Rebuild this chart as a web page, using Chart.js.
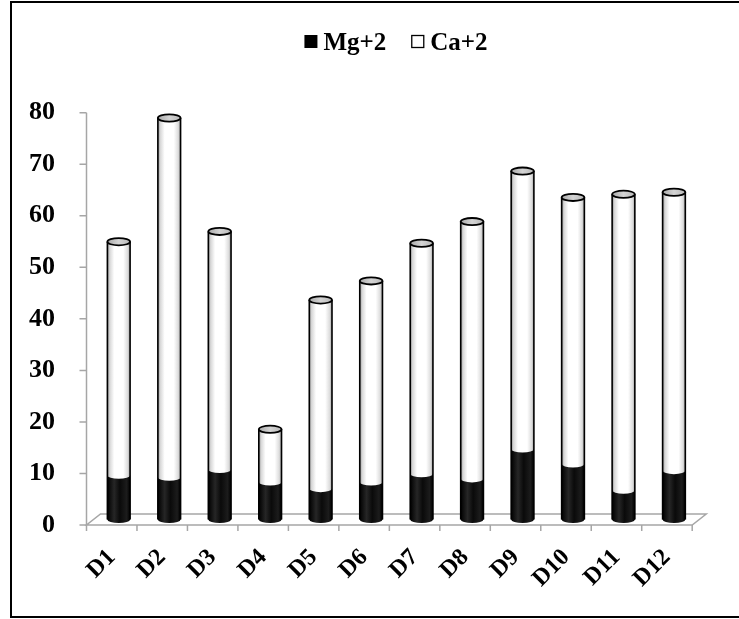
<!DOCTYPE html>
<html>
<head>
<meta charset="utf-8">
<script src="https://cdn.jsdelivr.net/npm/chart.js@4/dist/chart.umd.min.js"></script>
<style>
  html, body { margin: 0; padding: 0; background: #fff; }
  #wrap { position: relative; width: 739px; height: 619px; }
  canvas { display: block; }
</style>
</head>
<body>
<div id="wrap"><canvas id="c" width="739" height="619"></canvas></div>
<script>
// ---- data ----
const categories = ['D1','D2','D3','D4','D5','D6','D7','D8','D9','D10','D11','D12'];
const mgValues = [8.6, 8.2, 9.7, 7.3, 6.0, 7.3, 8.9, 7.9, 13.7, 10.8, 5.7, 9.5];
const caValues = [45.3, 69.7, 46.2, 10.2, 36.6, 39.0, 44.7, 49.9, 53.9, 51.7, 57.4, 54.0];
const seriesNames = ['Mg+2', 'Ca+2'];
const yMin = 0, yMax = 80, yStep = 10;

// ---- styling ----
const FONT = '"Liberation Serif", "Times New Roman", serif';
const DX = 7, DY = 5.5;   // half of the 3-D depth offset
const AXIS_GRAY = '#a6a6a6';

const frame3d = {
  id: 'frame3d',
  beforeDraw(chart) {
    const ctx = chart.ctx;
    ctx.save();
    ctx.fillStyle = '#fff';
    ctx.fillRect(0, 0, chart.width, chart.height);
    ctx.strokeStyle = '#000';
    ctx.lineWidth = 2;
    ctx.strokeRect(11, 2, chart.width + 10, 615);
    ctx.restore();
  },
  beforeDatasetsDraw(chart) {
    const ctx = chart.ctx, xs = chart.scales.x, ys = chart.scales.y;
    const y0 = ys.getPixelForValue(yMin);
    const L = xs.getPixelForValue(-0.5), R = xs.getPixelForValue(categories.length - 0.5);
    ctx.save();
    ctx.strokeStyle = AXIS_GRAY;
    ctx.lineWidth = 1.5;
    // floor
    ctx.beginPath();
    ctx.moveTo(L - DX, y0 + DY);
    ctx.lineTo(R - DX, y0 + DY);
    ctx.lineTo(R + DX, y0 - DY);
    ctx.lineTo(L + DX, y0 - DY);
    ctx.closePath();
    ctx.stroke();
    // y axis line and ticks
    ctx.beginPath();
    ctx.moveTo(L - DX, ys.getPixelForValue(yMin) + DY);
    ctx.lineTo(L - DX, ys.getPixelForValue(yMax) + DY);
    for (let v = yMin; v <= yMax; v += yStep) {
      const py = ys.getPixelForValue(v) + DY;
      ctx.moveTo(L - DX - 7, py);
      ctx.lineTo(L - DX, py);
    }
    // x ticks at category boundaries
    for (let i = 0; i <= categories.length; i++) {
      const px = xs.getPixelForValue(i - 0.5) - DX;
      ctx.moveTo(px, y0 + DY);
      ctx.lineTo(px, y0 + DY + 6);
    }
    ctx.stroke();
    ctx.restore();
  },
  afterDatasetsDraw(chart) {
    const ctx = chart.ctx;
    const m0 = chart.getDatasetMeta(0), m1 = chart.getDatasetMeta(1);
    ctx.save();
    for (let i = 0; i < m0.data.length; i++) {
      const b0 = m0.data[i].getProps(['x', 'y', 'base', 'width'], true);
      const b1 = m1.data[i].getProps(['x', 'y', 'base', 'width'], true);
      const cx = b0.x, w = b0.width, rx = w / 2, ry = 3.6;
      const l = cx - rx, r = cx + rx;
      const yb = b0.base, ym = b0.y, yt = b1.y;

      // Mg segment (black cylinder part)
      const gB = ctx.createLinearGradient(l, 0, r, 0);
      gB.addColorStop(0, '#000');
      gB.addColorStop(0.3, '#262626');
      gB.addColorStop(0.55, '#0a0a0a');
      gB.addColorStop(0.85, '#1c1c1c');
      gB.addColorStop(1, '#000');
      ctx.fillStyle = gB;
      ctx.beginPath();
      ctx.moveTo(l, ym);
      ctx.lineTo(l, yb);
      ctx.ellipse(cx, yb, rx, ry, 0, Math.PI, 0, true);
      ctx.lineTo(r, ym);
      ctx.closePath();
      ctx.fill();

      // Ca segment (white cylinder part)
      const gW = ctx.createLinearGradient(l, 0, r, 0);
      gW.addColorStop(0, '#8c8c8c');
      gW.addColorStop(0.1, '#d6d6d6');
      gW.addColorStop(0.3, '#ffffff');
      gW.addColorStop(0.7, '#ffffff');
      gW.addColorStop(0.9, '#dcdcdc');
      gW.addColorStop(1, '#a0a0a0');
      ctx.fillStyle = gW;
      ctx.beginPath();
      ctx.moveTo(l, yt);
      ctx.lineTo(l, ym);
      ctx.ellipse(cx, ym, rx, ry, 0, Math.PI, 0, true);
      ctx.lineTo(r, yt);
      ctx.closePath();
      ctx.fill();

      // side outlines
      ctx.strokeStyle = '#000';
      ctx.lineWidth = 1.6;
      ctx.beginPath();
      ctx.moveTo(l, yt);
      ctx.lineTo(l, yb);
      ctx.moveTo(r, yt);
      ctx.lineTo(r, yb);
      ctx.stroke();

      // top cap
      const gT = ctx.createLinearGradient(l, 0, r, 0);
      gT.addColorStop(0, '#a8a8a8');
      gT.addColorStop(0.5, '#d4d4d4');
      gT.addColorStop(1, '#b8b8b8');
      ctx.fillStyle = gT;
      ctx.beginPath();
      ctx.ellipse(cx, yt, rx, ry, 0, 0, Math.PI * 2);
      ctx.fill();
      ctx.lineWidth = 1.8;
      ctx.stroke();
    }
    ctx.restore();
  },
  afterDraw(chart) {
    // legend
    const ctx = chart.ctx;
    ctx.save();
    ctx.font = 'bold 25px ' + FONT;
    ctx.textBaseline = 'alphabetic';
    const box = 13, gapBox = 6, gapItem = 25;
    const widths = seriesNames.map(s => ctx.measureText(s).width);
    const total = box + gapBox + widths[0] + gapItem + box + gapBox + widths[1];
    let x = 396 - total / 2;
    const baseY = 50, boxTop = 35;
    ctx.fillStyle = '#000';
    ctx.fillRect(x, boxTop, box, box);
    x += box + gapBox;
    ctx.fillText(seriesNames[0], x, baseY);
    x += widths[0] + gapItem;
    ctx.strokeStyle = '#000';
    ctx.lineWidth = 1.3;
    ctx.fillStyle = '#fff';
    ctx.fillRect(x, boxTop, box, box);
    ctx.strokeRect(x + 0.5, boxTop + 0.5, box - 1, box - 1);
    x += box + gapBox;
    ctx.fillStyle = '#000';
    ctx.fillText(seriesNames[1], x, baseY);
    ctx.restore();
  }
};

new Chart(document.getElementById('c'), {
  type: 'bar',
  data: {
    labels: categories,
    datasets: [
      { label: seriesNames[0], data: mgValues, backgroundColor: '#000', borderWidth: 0,
        barPercentage: 0.45, categoryPercentage: 1 },
      { label: seriesNames[1], data: caValues, backgroundColor: '#fff', borderWidth: 0,
        barPercentage: 0.45, categoryPercentage: 1 }
    ]
  },
  options: {
    responsive: false,
    devicePixelRatio: 1,
    animation: false,
    layout: { padding: { top: 107.2, right: 39.8, left: 0, bottom: 0 } },
    plugins: { legend: { display: false }, tooltip: { enabled: false } },
    scales: {
      x: {
        stacked: true,
        grid: { display: false },
        border: { display: false },
        ticks: {
          color: '#000',
          font: { family: FONT, size: 24, weight: 'bold' },
          minRotation: 45, maxRotation: 45,
          labelOffset: -DX,
          padding: 16,
          autoSkip: false
        },
        afterFit(scale) { scale.height = 99.5; }
      },
      y: {
        stacked: true,
        min: yMin, max: yMax,
        grid: { display: false },
        border: { display: false },
        ticks: {
          stepSize: yStep,
          color: '#000',
          font: { family: FONT, size: 26, weight: 'bold' },
          padding: 30.5,
          labelOffset: DY
        },
        afterFit(scale) { scale.width = 93.5; }
      }
    }
  },
  plugins: [frame3d]
});
</script>
</body>
</html>
